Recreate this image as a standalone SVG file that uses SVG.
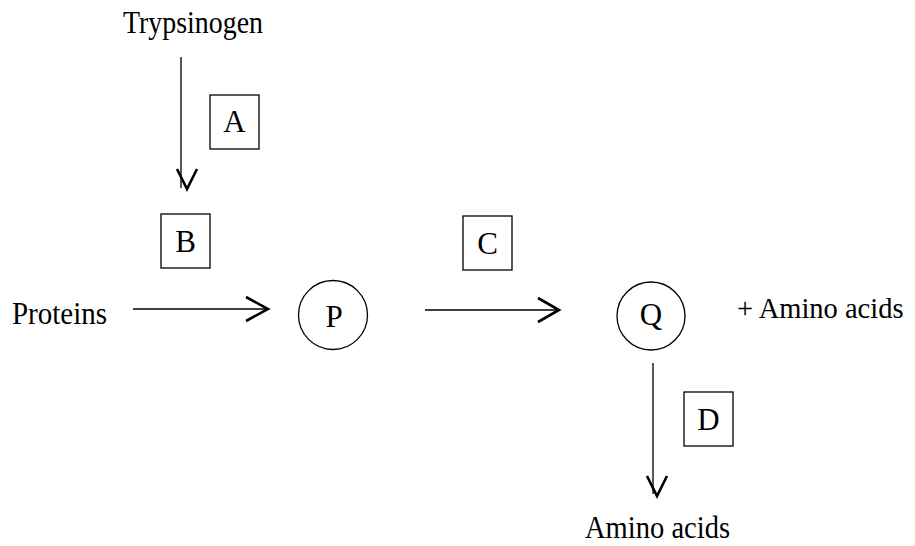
<svg xmlns="http://www.w3.org/2000/svg" width="915" height="546" viewBox="0 0 915 546">
<style>
text{font-family:"Liberation Serif","Times New Roman",serif;font-size:31px;fill:#000}
.lbl{text-anchor:middle}
.box{fill:none;stroke:#000;stroke-width:1.3}
.circ{fill:none;stroke:#000;stroke-width:1.3}
.ln{fill:none;stroke:#000;stroke-width:1.3}
.hd{fill:none;stroke:#000;stroke-width:2.6;stroke-linejoin:miter}
</style>
<rect width="915" height="546" fill="#fff"/>
<g id="connectors">
<line class="ln" x1="181" y1="57" x2="181" y2="188"/>
<polyline class="hd" points="177,169 187,189 197,169"/>
<line class="ln" x1="133" y1="309" x2="266" y2="309"/>
<polyline class="hd" points="246,297 268,309 246,321"/>
<line class="ln" x1="425" y1="310" x2="557" y2="310"/>
<polyline class="hd" points="538,298 559,310 538,322"/>
<line class="ln" x1="653" y1="363" x2="653" y2="494"/>
<polyline class="hd" points="647,476 657,496 667,476"/>
</g>
<g id="trypsinogen"><text x="123" y="33" textLength="140" lengthAdjust="spacingAndGlyphs">Trypsinogen</text></g>
<g id="proteins"><text x="12" y="324" textLength="95" lengthAdjust="spacingAndGlyphs">Proteins</text></g>
<g id="P"><circle class="circ" cx="333" cy="315" r="34.5"/><text class="lbl" x="334" y="327">P</text></g>
<g id="Q"><circle class="circ" cx="651" cy="316" r="34"/><text class="lbl" x="651" y="325">Q</text></g>
<g id="amino1"><text x="737" y="318" style="font-size:28.5px">+ Amino acids</text></g>
<g id="amino2"><text x="585" y="538" textLength="145" lengthAdjust="spacingAndGlyphs">Amino acids</text></g>
<g id="A"><rect class="box" x="210" y="95" width="49" height="54"/><text class="lbl" x="234.5" y="132">A</text></g>
<g id="B"><rect class="box" x="161" y="214" width="49" height="54"/><text class="lbl" x="185.5" y="252">B</text></g>
<g id="C"><rect class="box" x="463" y="216" width="49" height="54"/><text class="lbl" x="487.5" y="254">C</text></g>
<g id="D"><rect class="box" x="684" y="392" width="49" height="54"/><text class="lbl" x="708.5" y="430">D</text></g>
</svg>
